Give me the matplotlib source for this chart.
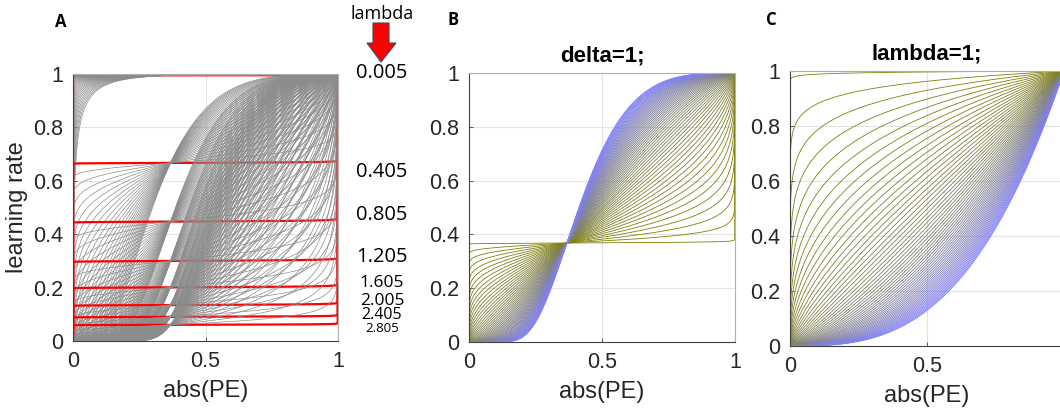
import numpy as np
import matplotlib
matplotlib.use("Agg")
import matplotlib.pyplot as plt
from matplotlib.patches import Polygon

# parameter sweeps
lambda_values = [0.005, 0.405, 0.805, 1.205, 1.605, 2.005, 2.405, 2.805]
lambda_labels = ["0.005", "0.405", "0.805", "1.205", "1.605", "2.005", "2.405", "2.805"]
# shape sweep in panel A (coarser) and in panels B/C
sweep_a_start, sweep_a_step, sweep_a_stop = 0.005, 0.1, 3.0
sweep_start, sweep_step, sweep_stop = 0.005, 0.05, 3.0
sweep_a_values = np.arange(sweep_a_start, sweep_a_stop, sweep_a_step)
sweep_values = np.arange(sweep_start, sweep_stop, sweep_step)
abs_pe = np.linspace(0, 1, 1001)

x_ticks = [0, 0.5, 1]
x_ticklabels = ["0", "0.5", "1"]
y_ticks = [0, 0.2, 0.4, 0.6, 0.8, 1]
y_ticklabels = ["0", "0.2", "0.4", "0.6", "0.8", "1"]


def learning_rate(x, scale, shape):
    with np.errstate(divide="ignore", invalid="ignore"):
        return np.exp(-scale * np.abs(-np.log(x)) ** shape)


W, H = 1060, 411
fig = plt.figure(figsize=(W / 100, H / 100), dpi=100)
tick_font = "Liberation Sans"
label_font = "Open Sans"


def px_axes(left, right, top, bottom):
    return fig.add_axes([left / W, 1 - bottom / H, (right - left) / W, (bottom - top) / H])


def style(ax):
    ax.set_xlim(0, 1)
    ax.set_ylim(0, 1)
    ax.set_xticks(x_ticks)
    ax.set_xticklabels(x_ticklabels)
    ax.set_yticks(y_ticks)
    ax.set_yticklabels(y_ticklabels)
    ax.grid(True, color="#e3e3e3", lw=0.8, zorder=0)
    ax.set_axisbelow(True)
    ax.tick_params(direction="in", length=3, width=0.6, color="#404040",
                   labelsize=15.5, labelcolor="#262626", pad=7,
                   top=False, right=False)
    for lab in ax.get_xticklabels() + ax.get_yticklabels():
        lab.set_fontfamily(tick_font)
    for side in ["left", "bottom"]:
        ax.spines[side].set_color("#404040")
        ax.spines[side].set_linewidth(0.8)
    for side in ["top", "right"]:
        ax.spines[side].set_color("#b0b0b0")
        ax.spines[side].set_linewidth(0.8)
    ax.set_xlabel("abs(PE)", fontsize=17, fontfamily=tick_font, color="#262626", labelpad=6)


# panel A
axA = px_axes(73, 338, 74, 341)
for lam in lambda_values:
    axA.plot(abs_pe, learning_rate(abs_pe, lam, sweep_a_values[0]), color="red", lw=1.6, zorder=2)
    for s in sweep_a_values[1:]:
        axA.plot(abs_pe, learning_rate(abs_pe, lam, s), color="#8c8c8c", lw=0.5, zorder=2)
style(axA)
axA.set_ylabel("learning rate", fontsize=17, fontfamily=tick_font, color="#262626", labelpad=4)

# panel B: scale fixed at 1
axB = px_axes(469, 735, 73, 342)
n = len(sweep_values)
for i, s in enumerate(sweep_values):
    axB.plot(abs_pe, learning_rate(abs_pe, 1.0, s), color=(0.5, 0.5, i / (n - 1)), lw=0.6, zorder=2)
style(axB)
axB.set_title("delta=1;", fontsize=16, fontweight="bold", fontfamily=tick_font, pad=8)

# panel C: shape fixed at 1
axC = px_axes(790, 1064, 71, 346)
for i, s in enumerate(sweep_values):
    axC.plot(abs_pe, learning_rate(abs_pe, s, 1.0), color=(0.5, 0.5, i / (n - 1)), lw=0.6, zorder=2)
style(axC)
axC.set_title("lambda=1;", fontsize=16, fontweight="bold", fontfamily=tick_font, pad=8)

# panel letters
for letter, (px, py) in zip("ABC", [(61, 22), (453, 20), (771, 20)]):
    fig.text(px / W, 1 - py / H, letter, fontsize=12, fontweight="bold",
             fontfamily=label_font, ha="center", va="center")

# lambda legend column
fig.text(382 / W, 1 - 14 / H, "lambda", fontsize=13, fontfamily=label_font, ha="center", va="center")
arrow_px = [(373, 23), (389, 23), (389, 43), (396, 43), (381, 62), (367, 43), (373, 43)]
fig.add_artist(Polygon([(x / W, 1 - y / H) for x, y in arrow_px], closed=True,
                       transform=fig.transFigure, facecolor="#ff0000",
                       edgecolor="#3a4a6a", lw=0.8))
label_y = [73, 172, 215, 257, 283, 301, 315, 328]
label_size = [14.5, 14.5, 14.5, 14.5, 12.5, 12.5, 11.5, 9.5]
for txt, py, fs in zip(lambda_labels, label_y, label_size):
    fig.text(382 / W, 1 - py / H, txt, fontsize=fs, fontfamily=label_font, ha="center", va="center")

fig.savefig("out.png", dpi=100)
